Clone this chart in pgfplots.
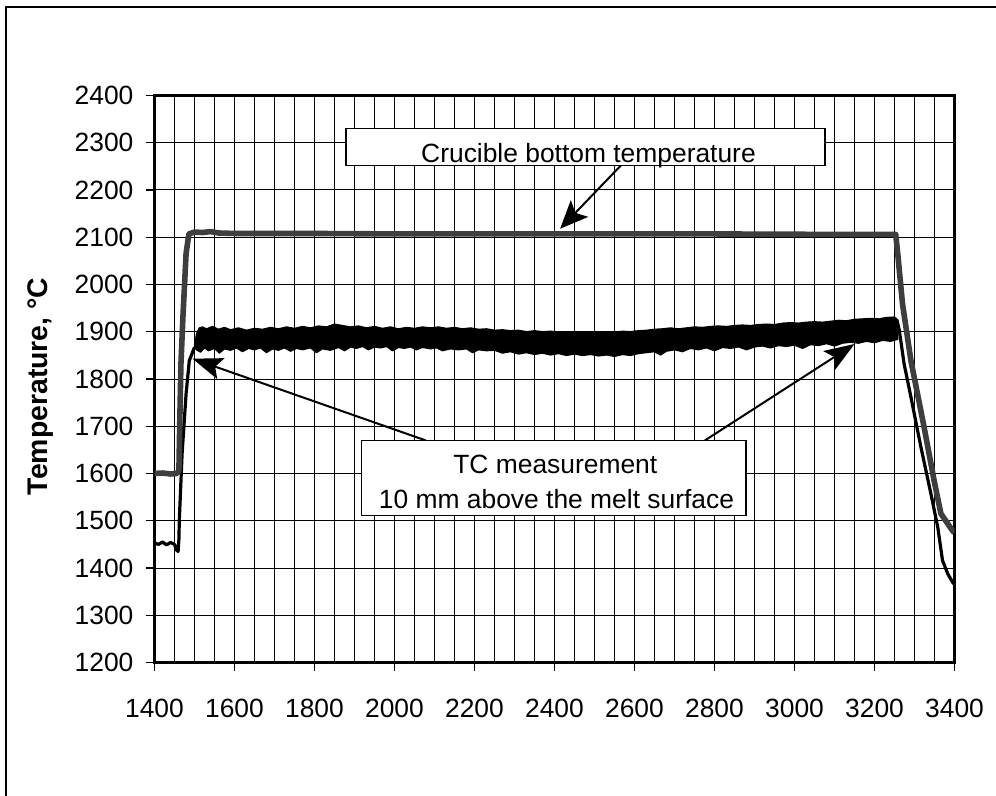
\documentclass[border=0pt]{standalone}
\usepackage{fontspec}
\setmainfont{Liberation Sans}
\usepackage{pgfplots}
\pgfplotsset{compat=1.18}
\usetikzlibrary{arrows.meta}
\definecolor{cruc}{HTML}{3E3E3E}
\begin{document}
\begin{tikzpicture}
\useasboundingbox (0,0) rectangle (498pt,-398pt);
\fill[white] (0,0) rectangle (498pt,-398pt);
\draw[line width=0.8pt] (3pt,-3.5pt) rectangle (530pt,-430pt);
\begin{axis}[
  at={(77.25pt,-331.25pt)}, anchor=south west,
  scale only axis, width=400pt, height=283.5pt,
  xmin=1400,xmax=3400,ymin=1200,ymax=2400,
  xtick={1400,1600,...,3400}, minor xtick={1450,1500,...,3350},
  ytick={1200,1300,...,2400},
  xtick pos=left, ytick pos=left,
  xmajorgrids, xminorgrids, ymajorgrids,
  grid style={black, line width=0.5pt},
  minor grid style={black, line width=0.5pt},
  tick align=outside, major tick length=4.3pt, minor tick length=0pt,
  tick style={black, line width=0.6pt},
  axis line style={line width=1.4pt},
  font=\fontsize{13.2}{15}\selectfont,
  /pgf/number format/1000 sep={},
  /pgf/number format/assume math mode=true,
  xticklabel style={yshift=-10.3pt},
  yticklabel style={xshift=-2.7pt},
  ylabel={\fontsize{14.2}{16}\selectfont\bfseries Temperature, °C},
  ylabel style={at={(axis description cs:-0.142,0.487)}, anchor=center},
]
% TC measurement: noisy band (upper envelope then lower envelope reversed)
\addplot[black, fill=black, line width=0.7pt, line join=round] coordinates {
(1500,1867)(1505,1895)(1512,1908)(1520,1910)(1530,1906)(1545,1911)(1560,1905)(1575,1909)(1590,1904)
(1610,1908)(1630,1903)(1650,1907)(1670,1905)(1690,1909)(1710,1906)(1730,1910)(1750,1907)(1770,1911)
(1790,1908)(1810,1912)(1830,1910)(1850,1916)(1870,1913)(1890,1910)(1910,1912)(1930,1908)(1950,1911)
(1970,1907)(1990,1910)(2010,1906)(2030,1909)(2050,1907)(2070,1910)(2090,1908)(2110,1910)(2130,1907)
(2150,1909)(2170,1906)(2190,1908)(2210,1905)(2230,1906)(2250,1903)(2270,1904)(2290,1902)(2310,1903)
(2330,1900)(2350,1902)(2370,1900)(2390,1901)(2410,1899)(2430,1900)(2450,1898)(2470,1899)(2490,1898)
(2510,1899)(2530,1900)(2550,1899)(2570,1901)(2590,1900)(2610,1902)(2630,1903)(2650,1905)(2670,1906)
(2690,1908)(2710,1906)(2730,1908)(2750,1910)(2770,1909)(2790,1911)(2810,1912)(2830,1911)(2850,1913)
(2870,1914)(2890,1913)(2910,1915)(2930,1916)(2950,1915)(2970,1918)(2990,1919)(3010,1918)(3030,1920)
(3050,1921)(3070,1920)(3090,1922)(3110,1924)(3130,1923)(3150,1926)(3170,1927)(3190,1928)(3210,1927)
(3230,1930)(3250,1931)(3258,1925)
(3258,1884)(3240,1880)(3220,1882)(3200,1877)(3180,1880)(3160,1876)(3140,1878)(3120,1876)(3100,1870)
(3080,1875)(3060,1871)(3040,1873)(3020,1865)(3000,1872)(2980,1869)(2960,1871)(2940,1866)(2920,1870)
(2900,1868)(2880,1862)(2860,1868)(2840,1865)(2820,1867)(2800,1860)(2780,1866)(2760,1862)(2740,1865)
(2720,1858)(2700,1862)(2680,1859)(2665,1851)(2650,1858)(2630,1856)(2610,1854)(2590,1850)(2570,1852)
(2550,1848)(2530,1851)(2510,1849)(2490,1852)(2470,1850)(2450,1853)(2430,1850)(2410,1854)(2390,1851)
(2370,1855)(2350,1852)(2330,1856)(2310,1853)(2290,1858)(2270,1855)(2250,1861)(2230,1860)(2210,1862)
(2195,1856)(2180,1864)(2160,1862)(2140,1864)(2120,1860)(2105,1866)(2090,1864)(2070,1867)(2055,1862)
(2040,1868)(2025,1865)(2010,1867)(1995,1860)(1980,1869)(1965,1866)(1950,1868)(1935,1862)(1920,1869)
(1905,1865)(1890,1868)(1875,1860)(1860,1867)(1840,1861)(1820,1864)(1805,1856)(1790,1866)(1770,1862)
(1755,1865)(1740,1859)(1725,1866)(1710,1861)(1695,1864)(1680,1856)(1665,1866)(1650,1862)(1635,1865)
(1620,1858)(1605,1866)(1590,1861)(1575,1864)(1562,1855)(1550,1865)(1535,1860)(1525,1866)(1515,1857)
(1505,1862)(1500,1867)
};
% TC measurement: start and end
\addplot[black, line width=1.6pt, line join=round] coordinates {
(1400,1453)(1410,1450)(1420,1455)(1430,1449)(1440,1454)(1450,1450)(1455,1438)(1459,1435)
(1461,1460)(1462,1501)(1469,1642)(1479,1769)(1487,1839)(1500,1867)
};
\addplot[black, line width=1.6pt, line join=round] coordinates {
(3256,1925)(3262,1903)(3274,1832)(3291,1762)(3316,1656)(3341,1557)(3358,1487)(3370,1416)
(3383,1388)(3395,1370)(3400,1365)
};
% Crucible bottom temperature
\addplot[cruc, line width=2.8pt, line join=round] coordinates {
(1400,1600)(1420,1601)(1440,1599)(1455,1600)(1461,1605)(1463,1700)(1466,1830)(1471,1930)
(1479,2066)(1486,2107)(1500,2111)(1520,2110)(1540,2112)(1560,2109)(1600,2108)(1800,2108)
(2000,2107)(2400,2107)(2800,2107)(3100,2106)(3253,2106)(3258,2066)(3270,1959)(3291,1839)
(3324,1698)(3349,1585)(3366,1515)(3395,1479)(3400,1475)
};
% annotations
\draw[line width=1pt, -{Stealth[length=14pt,width=12pt,inset=3pt]}] (axis cs:2566,2252) -- (axis cs:2414,2118);
\draw[line width=1pt, -{Stealth[length=15pt,width=11pt,inset=3pt]}] (axis cs:2078,1670) -- (axis cs:1495,1843);
\draw[line width=1pt, -{Stealth[length=15pt,width=11pt,inset=3pt]}] (axis cs:2776,1670) -- (axis cs:3150,1874);
\draw[line width=0.8pt, fill=white] (axis cs:1879,2330) rectangle (axis cs:3076,2252);
\node[anchor=base, inner sep=0pt] at (axis cs:2485,2258) {Crucible bottom temperature};
\draw[line width=0.8pt, fill=white] (axis cs:1917,1670) rectangle (axis cs:2879,1511);
\node[anchor=base, inner sep=0pt] at (axis cs:2402,1599) {TC measurement};
\node[anchor=base, inner sep=0pt] at (axis cs:2405,1526) {10 mm above the melt surface};
\end{axis}
\end{tikzpicture}
\end{document}
